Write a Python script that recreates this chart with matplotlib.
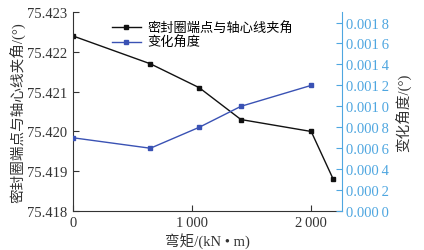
import matplotlib
matplotlib.use("Agg")
import matplotlib.pyplot as plt
from matplotlib.ticker import FuncFormatter

plt.rcParams['font.family'] = ['Liberation Serif', 'Noto Sans CJK SC']
plt.rcParams['mathtext.fontset'] = 'stix'

# data
moment = [0, 650, 1060, 1410, 2000, 2185]
seal_angle = [75.4224, 75.4217, 75.4211, 75.4203, 75.4200, 75.4188]
moment_change = [0, 650, 1060, 1410, 2000]
change_angle = [0.0007, 0.0006, 0.0008, 0.0010, 0.0012]

black = '#111111'
blue = '#3a52b4'
light_blue = '#4ea6e0'

fig = plt.figure(figsize=(4.24, 2.51), dpi=100)
ax = fig.add_axes([0.172, 0.155, 0.635, 0.793])
ax2 = ax.twinx()

l1, = ax.plot(moment, seal_angle, '-s', color=black, lw=1.0, ms=3.5,
              label='密封圈端点与轴心线夹角')
l2, = ax2.plot(moment_change, change_angle, '-s', color=blue, lw=1.0, ms=3.5,
               label='变化角度')

ax.set_xlim(0, 2260)
ax.set_ylim(75.418, 75.423)
ax.set_yticks([75.418, 75.419, 75.420, 75.421, 75.422, 75.423])
ax.yaxis.set_major_formatter(FuncFormatter(lambda v, p: f'{v:.3f}'))
ax.set_xticks([0, 1000, 2000])
ax.set_xticklabels(['0', '1\u2009000', '2\u2009000'])
ax2.set_ylim(0, 0.0019)
ax2.set_yticks([i * 0.0002 for i in range(10)])
ax2.yaxis.set_major_formatter(
    FuncFormatter(lambda v, p: (lambda s: s[:5] + '\u2009' + s[5:])(f'{v:.4f}')))

ax.tick_params(axis='x', direction='in', length=4, labelsize=10.5, colors='#333333')
ax.tick_params(axis='y', direction='in', length=4, labelsize=10.5, pad=4,
               colors='#333333')
ax2.tick_params(axis='y', direction='in', length=4, labelsize=10.5, pad=3,
                colors=light_blue)

ax.spines['top'].set_visible(False)
ax2.spines['top'].set_visible(False)
ax2.spines['left'].set_visible(False)
ax2.spines['bottom'].set_visible(False)
ax2.spines['right'].set_color(light_blue)
for s in ['left', 'bottom']:
    ax.spines[s].set_color('#333333')
ax.spines['right'].set_visible(False)

ax.set_xlabel('弯矩/(kN • m)', fontsize=10.5, labelpad=2, color='#333333')
ax.set_ylabel('密封圈端点与轴心线夹角/(°)', fontsize=10.5, labelpad=1,
              color='#333333')
ax2.set_ylabel('变化角度/(°)', fontsize=10.5, rotation=90, labelpad=4,
               color='#333333')

ax.legend([l1, l2], [l1.get_label(), l2.get_label()], loc='upper left',
          bbox_to_anchor=(0.1, 1.01), frameon=False, fontsize=9.5,
          handlelength=2.2, handletextpad=0.5, labelspacing=0.1)

fig.savefig('out.png', dpi=100)
